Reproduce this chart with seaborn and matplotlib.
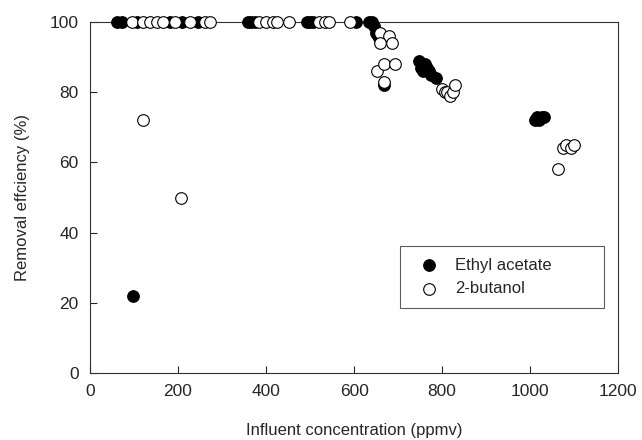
import pandas as pd
import seaborn as sns
import matplotlib.pyplot as plt

# ethyl acetate (filled)
ea_x = [62, 72, 107, 181, 209, 245, 358, 366, 374, 492, 499, 506, 605, 635, 640,
        645, 650, 655, 660, 669, 748, 752, 757, 762, 766, 770, 775, 785,
        1012, 1016, 1020, 1026, 1032, 97]
ea_y = [100, 100, 100, 100, 100, 100, 100, 100, 100, 100, 100, 100, 100, 100, 100,
        99, 97, 96, 95, 82, 89, 87, 86, 88, 87, 86, 85, 84,
        72, 73, 72, 73, 73, 22]

# 2-butanol (open)
bu_x = [95, 120, 136, 152, 166, 193, 227, 261, 272, 385, 401, 415, 426, 453, 521, 533, 544, 590,
        658, 680, 658, 687, 651, 669, 692, 669, 800, 806, 812, 818, 824, 830,
        1063, 1075, 1082, 1092, 1100, 120, 207]
bu_y = [100, 100, 100, 100, 100, 100, 100, 100, 100, 100, 100, 100, 100, 100, 100, 100, 100, 100,
        97, 96, 94, 94, 86, 88, 88, 83, 81, 80, 80, 79, 80, 82,
        58, 64, 65, 64, 65, 72, 50]

df = pd.concat([
    pd.DataFrame({"conc": ea_x, "eff": ea_y, "compound": "Ethyl acetate"}),
    pd.DataFrame({"conc": bu_x, "eff": bu_y, "compound": "2-butanol"}),
])

sns.set_style("ticks")
plt.rcParams['font.family'] = ['Liberation Sans', 'DejaVu Sans']

fig = plt.figure(figsize=(6.42, 4.4), dpi=100)
ax = fig.add_axes([0.140, 0.152, 0.823, 0.798])

sns.scatterplot(data=df[df.compound == "Ethyl acetate"], x="conc", y="eff", ax=ax,
                color="black", edgecolor="black", linewidth=0.8, s=70,
                label="Ethyl acetate", clip_on=False, zorder=3)
sns.scatterplot(data=df[df.compound == "2-butanol"], x="conc", y="eff", ax=ax,
                color="white", edgecolor="black", linewidth=0.8, s=70,
                label="2-butanol", clip_on=False, zorder=3)

ax.set_xlim(0, 1200)
ax.set_ylim(0, 100)
ax.set_xticks(range(0, 1201, 200))
ax.set_yticks(range(0, 101, 20))
ax.tick_params(direction="in", length=5, width=0.8, labelsize=12.5, pad=8)
for sp in ax.spines.values():
    sp.set_visible(True)
    sp.set_linewidth(0.8)
    sp.set_color("#333333")
ax.set_xlabel("Influent concentration (ppmv)", fontsize=12, labelpad=17)
ax.set_ylabel("Removal effciency (%)", fontsize=12, labelpad=14)

leg = ax.legend(loc="lower left", bbox_to_anchor=(0.572, 0.163, 0.416, 0.2),
                mode="expand", fontsize=12, frameon=True, fancybox=False,
                borderpad=0.7, handletextpad=0.6, labelspacing=0.5)
leg.get_frame().set_edgecolor("#333333")
leg.get_frame().set_linewidth(0.8)

fig.savefig("out.png", dpi=100)
